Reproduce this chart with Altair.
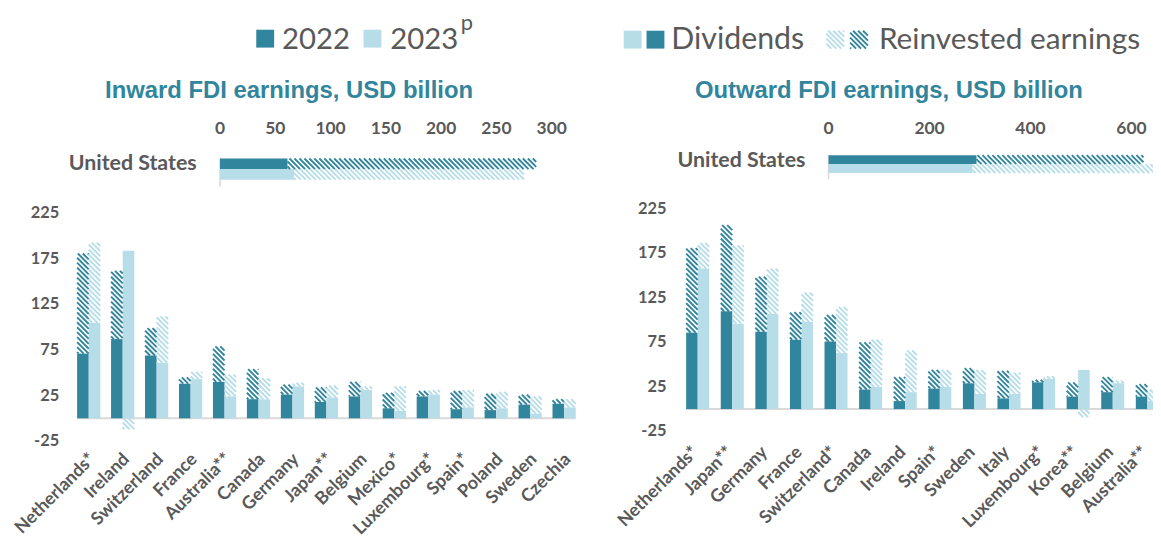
import altair as alt
import pandas as pd

# ---------------- data ----------------
IN_COUNTRIES = ["Netherlands*", "Ireland", "Switzerland", "France", "Australia**", "Canada",
                "Germany", "Japan**", "Belgium", "Mexico*", "Luxembourg*", "Spain*", "Poland",
                "Sweden", "Czechia"]
IN_DIV_2022 = [71, 87, 69, 38, 40, 21, 26, 18, 24, 11, 24, 10, 9, 15, 16]
IN_REI_2022 = [110, 75, 30, 7, 39, 33, 11, 16, 16, 17, 6, 20, 18, 11, 5]
IN_DIV_2023 = [105, 184, 61, 43, 24, 21, 35, 23, 31, 8, 26, 12, 11, 5, 12]
IN_REI_2023 = [88, -12, 51, 8, 24, 23, 4, 13, 4, 27, 5, 19, 18, 19, 9]

OUT_COUNTRIES = ["Netherlands*", "Japan**", "Germany", "France", "Switzerland*", "Canada",
                 "Ireland", "Spain*", "Sweden", "Italy", "Luxembourg*", "Korea**", "Belgium",
                 "Australia**"]
OUT_DIV_2022 = [86, 110, 87, 78, 76, 22, 9, 23, 29, 12, 30, 14, 19, 14]
OUT_REI_2022 = [95, 97, 62, 31, 30, 53, 27, 21, 17, 31, 3, 16, 17, 14]
OUT_DIV_2023 = [158, 96, 107, 98, 63, 25, 19, 25, 17, 17, 34, 44, 29, 9]
OUT_REI_2023 = [29, 88, 51, 33, 52, 53, 47, 19, 27, 24, 3, -9, 3, 13]

US_IN_DIV = [61, 67]
US_IN_REI = [225, 208]
US_OUT_DIV = [293, 285]
US_OUT_REI = [331, 370]

YEARS = ["2022", "2023"]
MAIN_TICKS = ["-25", "25", "75", "125", "175", "225"]
US_IN_TICKS = [0, 50, 100, 150, 200, 250, 300]
US_OUT_TICKS = [0, 200, 400, 600]

# ---------------- style ----------------
DARK = "#31859C"
LIGHT = "#B7DEE8"
GRAY = "#595959"
AXIS = "#D9D9D9"
LFONT = "Lato"
TFONT = "Liberation Sans"
HP = 5.0      # hatch period (px)
HW = 1.9      # hatch stroke width (px)

COLOR = alt.Color("year:N", scale=alt.Scale(domain=YEARS, range=[DARK, LIGHT]), legend=None)


def hatch(ch, SX, SY):
    """diagonal stripes inside rectangles xa..xb / ya..yb (data units)"""
    return (ch.transform_calculate(
                U0=f"min(datum.xa, datum.xb)*({SX})",
                U1=f"max(datum.xa, datum.xb)*({SX})",
                V0=f"min(-datum.ya*({SY}), -datum.yb*({SY}))",
                V1=f"max(-datum.ya*({SY}), -datum.yb*({SY}))")
              .transform_calculate(kk0=f"ceil((datum.U0 - datum.V1)/{HP})",
                                   ks="sequence(0, 160)")
              .transform_flatten(["ks"])
              .transform_calculate(c=f"(datum.kk0 + datum.ks)*{HP}")
              .transform_filter("datum.c <= datum.U1 - datum.V0")
              .transform_calculate(us="max(datum.U0, datum.V0 + datum.c)",
                                   ue="min(datum.U1, datum.V1 + datum.c)")
              .transform_filter("datum.us < datum.ue")
              .transform_calculate(hx=f"datum.us/({SX})", hx2=f"datum.ue/({SX})",
                                   hy=f"-(datum.us - datum.c)/({SY})",
                                   hy2=f"-(datum.ue - datum.c)/({SY})"))


def main_panel(countries, d22, r22, d23, r23, x0, x1, y0px, ytop, bw_px, ylab_x, clab_y, clab_dx):
    n = len(countries)
    rows = []
    for i, c in enumerate(countries):
        rows.append({"country": c, "i": i, "yr": 0, "year": YEARS[0], "d": d22[i], "r": r22[i]})
        rows.append({"country": c, "i": i, "yr": 1, "year": YEARS[1], "d": d23[i], "r": r23[i]})
    df = pd.DataFrame(rows)
    ymax = 225
    SX = (x1 - x0) / (n - 1)
    SY = (y0px - ytop) / ymax
    BW = bw_px / SX
    xs = alt.Scale(domain=[0, n - 1], range=[x0, x1], nice=False, zero=False)
    ys = alt.Scale(domain=[0, ymax], range=[y0px, ytop], nice=False, zero=False)

    def X(f):
        return alt.X(f"{f}:Q", scale=xs, axis=None)

    def Y(f):
        return alt.Y(f"{f}:Q", scale=ys, axis=None)

    base = alt.Chart(df).transform_calculate(
        xa=f"datum.i + (datum.yr - 1)*{BW}", xb=f"datum.i + datum.yr*{BW}")

    baseline = alt.Chart(pd.DataFrame({"a": [-BW], "b": [n - 1 + BW], "z": [0]})).mark_rule(
        color=AXIS, strokeWidth=2).encode(x=X("a"), x2=alt.X2("b"), y=Y("z"))

    div = base.transform_calculate(ya="0", yb="datum.d").mark_rect().encode(
        x=X("xa"), x2=alt.X2("xb"), y=Y("ya"), y2=alt.Y2("yb"), color=COLOR)

    rei = hatch(base.transform_calculate(
        ya="datum.r >= 0 ? datum.d : 0",
        yb="datum.r >= 0 ? datum.d + datum.r : datum.r"), SX, SY).mark_rule(
        strokeWidth=HW).encode(x=X("hx"), x2=alt.X2("hx2"), y=Y("hy"), y2=alt.Y2("hy2"),
                               color=COLOR)

    ylab = alt.Chart(pd.DataFrame({"lab": MAIN_TICKS, "v": [float(t) for t in MAIN_TICKS]})).mark_text(
        align="right", baseline="middle", font=LFONT, fontWeight="bold", fontSize=16.5,
        color=GRAY).encode(x=alt.value(ylab_x), y=Y("v"), text="lab:N")

    clab = alt.Chart(pd.DataFrame({"country": countries, "i": list(range(n))})).transform_calculate(
        ix=f"datum.i + {clab_dx / SX}").mark_text(
        angle=315, align="right", baseline="middle", font=LFONT, fontWeight="bold",
        fontSize=18, color=GRAY).encode(x=X("ix"), y=alt.value(clab_y), text="country:N")

    return alt.layer(baseline, div, rei, ylab, clab)


def us_panel(d, r, ticks, x0px, SXus, ytop, row_h, axis_bottom, tick_y, us_x, us_y):
    df = pd.DataFrame({"year": YEARS, "yr": [0, 1], "d": d, "r": r})
    xmax = ticks[-1]
    xs = alt.Scale(domain=[0, xmax], range=[x0px, x0px + xmax * SXus], nice=False, zero=False)
    ys = alt.Scale(domain=[0, 2], range=[ytop, ytop + 2 * row_h], nice=False, zero=False)
    SY = -row_h

    def X(f):
        return alt.X(f"{f}:Q", scale=xs, axis=None)

    def Y(f):
        return alt.Y(f"{f}:Q", scale=ys, axis=None)

    base = alt.Chart(df).transform_calculate(ya="datum.yr", yb="datum.yr + 1")
    div = base.transform_calculate(xa="0", xb="datum.d").mark_rect().encode(
        x=X("xa"), x2=alt.X2("xb"), y=Y("ya"), y2=alt.Y2("yb"), color=COLOR)
    rei = hatch(base.transform_calculate(xa="datum.d", xb="datum.d + datum.r"), SXus, SY).mark_rule(
        strokeWidth=HW).encode(x=X("hx"), x2=alt.X2("hx2"), y=Y("hy"), y2=alt.Y2("hy2"),
                               color=COLOR)
    axis = alt.Chart(pd.DataFrame({"z": [0], "a": [-0.05], "b": [axis_bottom]})).mark_rule(
        color=AXIS, strokeWidth=1.5).encode(x=X("z"), y=Y("a"), y2=alt.Y2("b"))
    tl = alt.Chart(pd.DataFrame({"v": ticks})).mark_text(
        align="center", baseline="middle", font=LFONT, fontWeight="bold", fontSize=17.5,
        color=GRAY).encode(x=X("v"), y=alt.value(tick_y), text="v:N")
    us = alt.Chart(pd.DataFrame({"t": ["United States"]})).mark_text(
        align="right", baseline="middle", font=LFONT, fontWeight="bold", fontSize=21.5,
        color=GRAY).encode(x=alt.value(us_x), y=alt.value(us_y), text="t:N")
    return alt.layer(axis, div, rei, tl, us)


def label(t, x, y, size, font=LFONT, weight="normal", color=GRAY, align="left"):
    return alt.Chart(pd.DataFrame({"t": [t]})).mark_text(
        align=align, baseline="middle", font=font, fontWeight=weight, fontSize=size,
        color=color).encode(x=alt.value(x), y=alt.value(y), text="t:N")


def square(x, y, s, color):
    return alt.Chart(pd.DataFrame({"k": [0]})).mark_rect(color=color).encode(
        x=alt.value(x), x2=alt.value(x + s), y=alt.value(y), y2=alt.value(y + s))


def hatched_square(x, y, s, color):
    df = pd.DataFrame({"xa": [x], "xb": [x + s], "ya": [y], "yb": [y + s]})
    return hatch(alt.Chart(df), 1, -1).mark_rule(strokeWidth=HW, color=color).encode(
        x=alt.X("hx:Q", scale=None), x2=alt.X2("hx2"),
        y=alt.Y("hy:Q", scale=None), y2=alt.Y2("hy2"))


# ---------------- panels ----------------
left_main = main_panel(IN_COUNTRIES, IN_DIV_2022, IN_REI_2022, IN_DIV_2023, IN_REI_2023,
                       x0=81.3, x1=560, y0px=411.3, ytop=205, bw_px=11.7,
                       ylab_x=51.5, clab_y=450, clab_dx=4)
right_main = main_panel(OUT_COUNTRIES, OUT_DIV_2022, OUT_REI_2022, OUT_DIV_2023, OUT_REI_2023,
                        x0=694.5, x1=1147.3, y0px=402, ytop=200.6, bw_px=11.6,
                        ylab_x=663, clab_y=443, clab_dx=-2)
left_us = us_panel(US_IN_DIV, US_IN_REI, US_IN_TICKS, x0px=213.5, SXus=1.1133, ytop=149.7,
                   row_h=10.65, axis_bottom=2.66, tick_y=120.3, us_x=190, us_y=155)
right_us = us_panel(US_OUT_DIV, US_OUT_REI, US_OUT_TICKS, x0px=826.3, SXus=0.5083, ytop=146.3,
                    row_h=9, axis_bottom=2.67, tick_y=119.7, us_x=803, us_y=152)

deco = [
    square(250, 20, 18, DARK), label("2022", 276, 30, 29.5),
    square(358, 20, 18, LIGHT), label("2023", 385, 30, 29.5), label("p", 456, 13, 22),
    square(620, 21, 18, LIGHT), square(643, 21, 18, DARK), label("Dividends", 668, 30, 30.5),
    hatched_square(824, 21, 18, LIGHT), hatched_square(848, 21, 18, DARK),
    label("Reinvested earnings", 877, 30, 30),
    label("Inward FDI earnings, USD billion", 283, 82, 24, font=TFONT, weight="bold",
          color=DARK, align="center"),
    label("Outward FDI earnings, USD billion", 887, 82, 24, font=TFONT, weight="bold",
          color=DARK, align="center"),
]

chart = alt.layer(left_main, right_main, left_us, right_us, *deco).resolve_scale(
    x="independent", y="independent", color="independent"
).properties(width=1153, height=535, padding=0, autosize="none",
             background="white").configure_view(stroke=None)

chart.save("out.html", embed_options={"renderer": "svg", "actions": False})
